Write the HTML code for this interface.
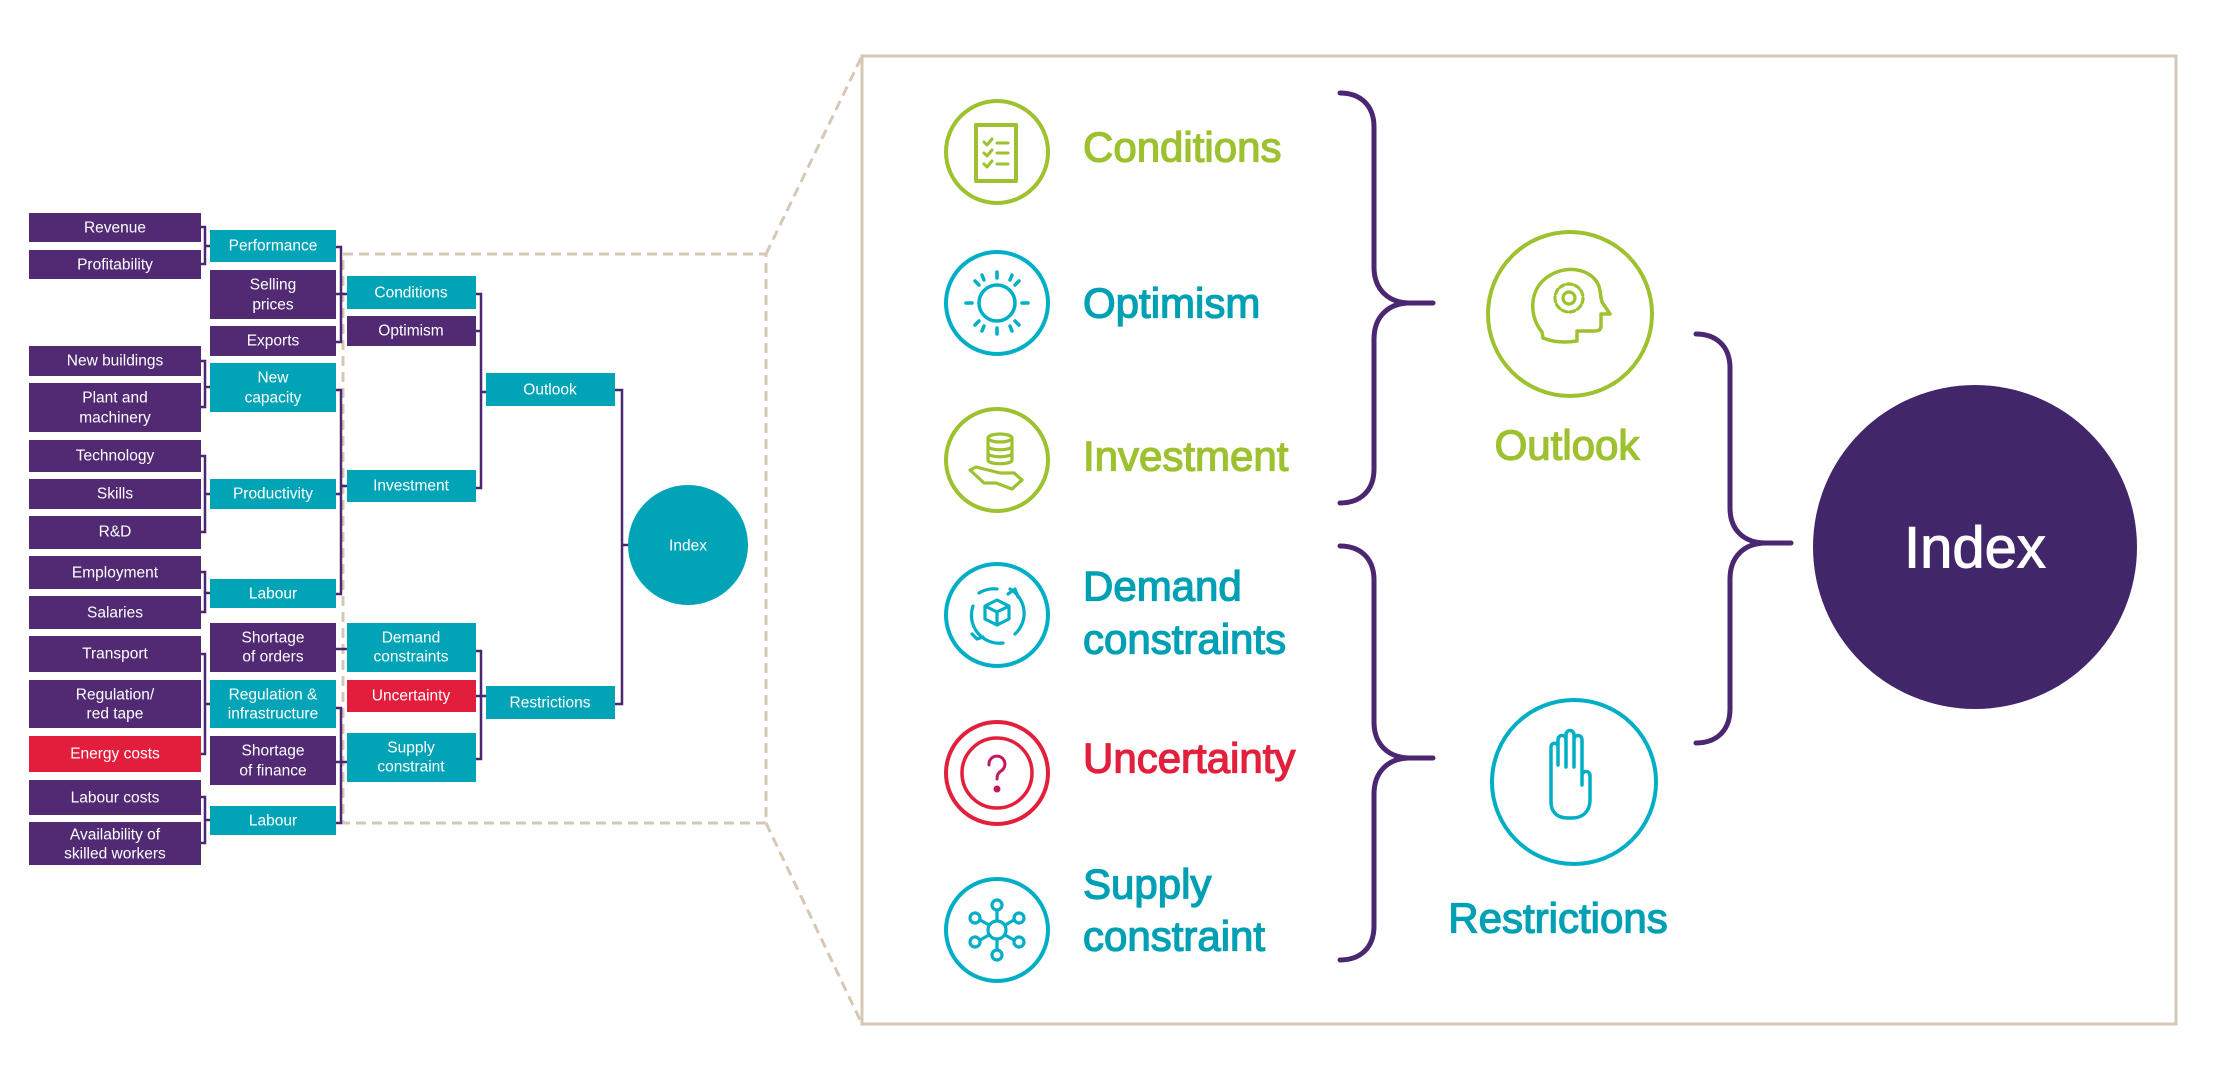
<!DOCTYPE html>
<html><head><meta charset="utf-8"><style>
html,body{margin:0;padding:0;background:#fff;width:2220px;height:1086px;overflow:hidden}
svg{display:block}
.bt{font-family:"Liberation Sans",sans-serif;font-size:15.5px;fill:#fff;text-anchor:middle;dominant-baseline:central}
.big{font-family:"Liberation Sans",sans-serif;font-weight:normal;font-size:42px;dominant-baseline:central;stroke-width:1.3px}
</style></head><body>
<svg width="2220" height="1086" viewBox="0 0 2220 1086" xmlns="http://www.w3.org/2000/svg">
<g fill="none" stroke="#d5c8b6" stroke-width="3" stroke-dasharray="10,6">
<rect x="343" y="254" width="423" height="569"/>
<line x1="766" y1="254" x2="862" y2="56"/>
<line x1="766" y1="823" x2="862" y2="1024"/>
</g>
<rect x="862" y="56" width="1314" height="968" fill="none" stroke="#d5c8b6" stroke-width="3"/>

<g fill="none" stroke="#4a2770" stroke-width="2.5">
<path d="M201 227H205V264H201 M205 246H210"/>
<path d="M201 361H205V407H201 M205 387H210"/>
<path d="M201 456H205V532H201 M205 494H210"/>
<path d="M201 572H205V612H201 M205 593H210"/>
<path d="M201 654H205V754H201 M205 704H210"/>
<path d="M201 797H205V843H201 M205 820H210"/>
<path d="M336 247H341V342H336 M336 294H347"/>
<path d="M336 390H341V594H336 M336 494H341 M341 486H347"/>
<path d="M336 649H347"/>
<path d="M336 708H341V823H336 M336 762H347"/>
<path d="M476 294H481V488H476 M476 331H481 M481 392H486"/>
<path d="M476 651H481V759H476 M476 696H486"/>
<path d="M615 390H622V704H615 M622 545H628"/>
</g>

<g>
<rect x="29" y="213" width="172" height="29" fill="#522a74"/><text class="bt" x="115" y="228">Revenue</text>
<rect x="29" y="250" width="172" height="29" fill="#522a74"/><text class="bt" x="115" y="265">Profitability</text>
<rect x="29" y="346" width="172" height="30" fill="#522a74"/><text class="bt" x="115" y="361">New buildings</text>
<rect x="29" y="383" width="172" height="49" fill="#522a74"/><text class="bt" x="115" y="398">Plant and</text><text class="bt" x="115" y="418">machinery</text>
<rect x="29" y="440" width="172" height="32" fill="#522a74"/><text class="bt" x="115" y="456">Technology</text>
<rect x="29" y="479" width="172" height="30" fill="#522a74"/><text class="bt" x="115" y="494">Skills</text>
<rect x="29" y="516" width="172" height="33" fill="#522a74"/><text class="bt" x="115" y="532">R&amp;D</text>
<rect x="29" y="556" width="172" height="33" fill="#522a74"/><text class="bt" x="115" y="573">Employment</text>
<rect x="29" y="596" width="172" height="33" fill="#522a74"/><text class="bt" x="115" y="613">Salaries</text>
<rect x="29" y="636" width="172" height="36" fill="#522a74"/><text class="bt" x="115" y="654">Transport</text>
<rect x="29" y="680" width="172" height="48" fill="#522a74"/><text class="bt" x="115" y="695">Regulation/</text><text class="bt" x="115" y="714">red tape</text>
<rect x="29" y="736" width="172" height="36" fill="#e31e3c"/><text class="bt" x="115" y="754">Energy costs</text>
<rect x="29" y="780" width="172" height="35" fill="#522a74"/><text class="bt" x="115" y="798">Labour costs</text>
<rect x="29" y="822" width="172" height="43" fill="#522a74"/><text class="bt" x="115" y="835">Availability of</text><text class="bt" x="115" y="854">skilled workers</text>
</g>
<g>
<rect x="210" y="230" width="126" height="32" fill="#00a4b6"/><text class="bt" x="273" y="246">Performance</text>
<rect x="210" y="270" width="126" height="49" fill="#522a74"/><text class="bt" x="273" y="285">Selling</text><text class="bt" x="273" y="305">prices</text>
<rect x="210" y="326" width="126" height="30" fill="#522a74"/><text class="bt" x="273" y="341">Exports</text>
<rect x="210" y="363" width="126" height="49" fill="#00a4b6"/><text class="bt" x="273" y="378">New</text><text class="bt" x="273" y="398">capacity</text>
<rect x="210" y="479" width="126" height="30" fill="#00a4b6"/><text class="bt" x="273" y="494">Productivity</text>
<rect x="210" y="579" width="126" height="29" fill="#00a4b6"/><text class="bt" x="273" y="594">Labour</text>
<rect x="210" y="623" width="126" height="49" fill="#522a74"/><text class="bt" x="273" y="638">Shortage</text><text class="bt" x="273" y="657">of orders</text>
<rect x="210" y="680" width="126" height="48" fill="#00a4b6"/><text class="bt" x="273" y="695">Regulation &amp;</text><text class="bt" x="273" y="714">infrastructure</text>
<rect x="210" y="736" width="126" height="49" fill="#522a74"/><text class="bt" x="273" y="751">Shortage</text><text class="bt" x="273" y="771">of finance</text>
<rect x="210" y="806" width="126" height="29" fill="#00a4b6"/><text class="bt" x="273" y="821">Labour</text>
</g>
<g>
<rect x="347" y="276" width="129" height="33" fill="#00a4b6"/><text class="bt" x="411" y="293">Conditions</text>
<rect x="347" y="316" width="129" height="30" fill="#522a74"/><text class="bt" x="411" y="331">Optimism</text>
<rect x="347" y="470" width="129" height="32" fill="#00a4b6"/><text class="bt" x="411" y="486">Investment</text>
<rect x="347" y="623" width="129" height="49" fill="#00a4b6"/><text class="bt" x="411" y="638">Demand</text><text class="bt" x="411" y="657">constraints</text>
<rect x="347" y="680" width="129" height="32" fill="#e31e3c"/><text class="bt" x="411" y="696">Uncertainty</text>
<rect x="347" y="733" width="129" height="49" fill="#00a4b6"/><text class="bt" x="411" y="748">Supply</text><text class="bt" x="411" y="767">constraint</text>
</g>
<rect x="486" y="373" width="129" height="33" fill="#00a4b6"/><text class="bt" x="550" y="390">Outlook</text>
<rect x="486" y="686" width="129" height="33" fill="#00a4b6"/><text class="bt" x="550" y="703">Restrictions</text>
<circle cx="688" cy="545" r="60" fill="#00a4b6"/><text class="bt" x="688" y="546">Index</text>

<g fill="none" stroke-width="4" stroke-linecap="round" stroke-linejoin="round">
<g stroke="#9dc12f">
<circle cx="997" cy="152" r="51"/>
<rect x="976" y="125" width="40" height="56"/>
<path d="M984 142l3 3 5-6M984 153l3 3 5-6M984 164l3 3 5-6M997 143h11M997 153h11M997 164h11" stroke-width="3"/>
</g>
<g stroke="#00aec6">
<circle cx="997" cy="303" r="51"/>
<circle cx="997" cy="303" r="18" stroke-width="3.5"/>
<path d="M997 272v6M997 328v6M966 303h6M1022 303h6M975 281l4 4M1015 321l4 4M1019 281l-4 4M979 321l-4 4M982 275l2 5M1010 326l2 5M1012 275l-2 5M984 326l-2 5" stroke-width="3.5"/>
</g>
<g stroke="#9dc12f">
<circle cx="997" cy="460" r="51"/>
<g stroke-width="3.2">
<ellipse cx="1000" cy="438" rx="12" ry="4"/>
<path d="M988 438v22M1012 438v22M988 446c0 5 24 5 24 0M988 453c0 5 24 5 24 0M988 460c0 5 24 5 24 0"/>
<path d="M970 470l6-3 24 6h14l8 7-10 9-16-6h-12z"/>
</g>
</g>
<g stroke="#00aec6">
<circle cx="997" cy="615" r="51"/>
<g stroke-width="3.2">
<path d="M1010 589a28 28 0 0 1 5 45M1003 643a28 28 0 0 1-30-37M979 593a28 28 0 0 1 18-4"/>
<path d="M1008 594l7-5 3 8M972 634l5 5 6-2"/>
<path d="M997 600l12 6v13l-12 6-12-6v-13z M985 606l12 6 12-6M997 612v13"/>
</g>
</g>
<g stroke="#e3203c">
<circle cx="997" cy="773" r="51"/>
<circle cx="997" cy="773" r="35" stroke-width="3.5"/>
<path d="M989 765a8 8 0 1 1 12 6c-3 2-4 4-4 8" stroke="#c2185b" stroke-width="3"/>
<circle cx="997" cy="789" r="1.5" fill="#c2185b" stroke="#c2185b"/>
</g>
<g stroke="#00aec6">
<circle cx="997" cy="930" r="51"/>
<g stroke-width="3.2">
<circle cx="997" cy="930" r="9"/>
<circle cx="997" cy="905" r="5"/><circle cx="997" cy="955" r="5"/>
<circle cx="975" cy="918" r="5"/><circle cx="1019" cy="918" r="5"/>
<circle cx="975" cy="942" r="5"/><circle cx="1019" cy="942" r="5"/>
<path d="M997 910v11M997 939v11M980 920l9 5M1014 920l-9 5M980 940l9-5M1014 940l-9-5"/>
</g>
</g>
<g stroke="#9dc12f">
<circle cx="1570" cy="314" r="82"/>
<path d="M1542 332c-12-14-14-40 4-54 18-14 44-10 52 6 3 6 2 12 4 18l8 12h-9v12c0 4-3 5-7 5h-17v10c-12 2-24 1-34-3z" stroke-width="3.5"/>
<circle cx="1569" cy="298" r="6" stroke-width="3.2"/>
<circle cx="1569" cy="298" r="14" stroke-width="3.2" stroke-dasharray="5,3"/>
</g>
<g stroke="#00aec6">
<circle cx="1574" cy="782" r="82"/>
<path d="M1551 785v-38c0-5 7-5 7 0M1558 765v-25c0-6 8-6 8 0v27M1566 742v-7c0-6 8-6 8 0v32M1574 740c0-6 8-6 8 0v40M1582 785v-9c0-6 8-6 8 0v24c0 12-8 18-18 18h-4c-12 0-17-7-17-16v-17" stroke-width="3.5"/>
</g>
</g>

<g fill="none" stroke="#4a2770" stroke-width="5" stroke-linecap="round">
<path d="M1340 93c20 0 34 12 34 34v140c0 22 14 36 36 36h23M1340 503c20 0 34-12 34-34v-130c0-22 14-36 36-36"/>
<path d="M1340 546c20 0 34 12 34 34v142c0 22 14 36 36 36h23M1340 960c20 0 34-12 34-34v-132c0-22 14-36 36-36"/>
<path d="M1696 334c20 0 34 12 34 34v140c0 22 14 35 36 35h25M1696 743c20 0 34-12 34-34v-130c0-22 14-36 36-36"/>
</g>

<text class="big" x="1083" y="147" fill="#9dc12f" stroke="#9dc12f">Conditions</text>
<text class="big" x="1083" y="303" fill="#00a0b4" stroke="#00a0b4">Optimism</text>
<text class="big" x="1083" y="456" fill="#9dc12f" stroke="#9dc12f">Investment</text>
<text class="big" x="1083" y="586" fill="#00a0b4" stroke="#00a0b4">Demand</text>
<text class="big" x="1083" y="639" fill="#00a0b4" stroke="#00a0b4">constraints</text>
<text class="big" x="1083" y="758" fill="#e3203c" stroke="#e3203c">Uncertainty</text>
<text class="big" x="1083" y="884" fill="#00a0b4" stroke="#00a0b4">Supply</text>
<text class="big" x="1083" y="936" fill="#00a0b4" stroke="#00a0b4">constraint</text>
<text class="big" x="1567" y="445" fill="#9dc12f" stroke="#9dc12f" text-anchor="middle">Outlook</text>
<text class="big" x="1558" y="918" fill="#00a0b4" stroke="#00a0b4" text-anchor="middle">Restrictions</text>

<circle cx="1975" cy="547" r="162" fill="#42266a"/>
<text x="1975" y="548" fill="#fff" stroke="#fff" stroke-width="1" font-family="Liberation Sans, sans-serif" font-size="58" text-anchor="middle" dominant-baseline="central">Index</text>
</svg>
</body></html>
